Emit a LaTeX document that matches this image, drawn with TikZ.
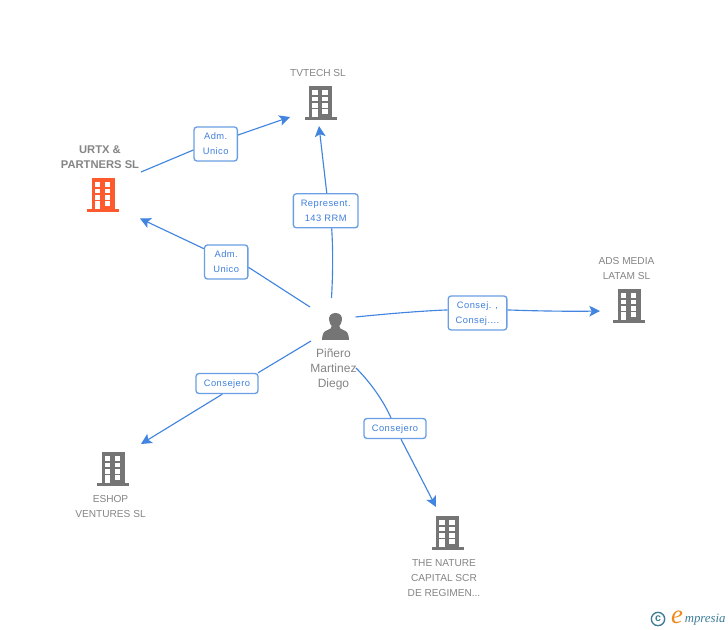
\documentclass[tikz,border=0pt]{standalone}
\usepackage{fontspec}
\setmainfont{Liberation Sans}
\newfontfamily\labelfont[LetterSpace=5]{Liberation Sans}
\newfontfamily\logofont{Liberation Serif}
\usetikzlibrary{arrows.meta}
\definecolor{iconGrey}{HTML}{757575}
\definecolor{iconRed}{HTML}{FF5A2E}
\definecolor{textGrey}{HTML}{858585}
\definecolor{edgeBlue}{HTML}{4285E0}
\definecolor{boxBlue}{HTML}{6A9FE4}
\definecolor{labelBlue}{HTML}{3F7FDC}
\definecolor{logoTeal}{HTML}{3D7C97}
\definecolor{logoOrange}{HTML}{F08A1D}
\newcommand{\lbltext}[1]{\raisebox{-1.2pt}{\begin{tabular}{@{}c@{}}#1\end{tabular}}}
\tikzset{
  iconbox/.style={inner sep=0pt,minimum width=24pt,minimum height=25.5pt},
  company/.style={font=\fontsize{7.6pt}{11.25pt}\selectfont,text=textGrey,align=center,inner sep=0pt},
  mainco/.style={font=\fontsize{8.4pt}{11.25pt}\selectfont\bfseries,text=textGrey,align=center,inner sep=0pt},
  personname/.style={font=\fontsize{9pt}{11.4pt}\selectfont,text=textGrey,align=center,inner sep=0pt},
  relbox/.style={draw=boxBlue,line width=1pt,fill=white,rounded corners=2.2pt,inner sep=0pt,
    text=labelBlue,align=center,font=\labelfont\fontsize{7pt}{11.25pt}\selectfont},
  link/.style={draw=edgeBlue,line width=.85pt},
  tip/.style={-{Stealth[length=8pt,width=8pt,inset=1.8pt]}},
  building/.pic={
    \fill[pic actions] (-11.5,-17) rectangle (11.5,14);
    \fill[pic actions] (-16,14) rectangle (16,17);
    \foreach \yy in {-12.7,-6.3,0.3}{
      \fill[white] (-8.2,\yy) rectangle (-2.8,\yy+4.6);
      \fill[white] (1.8,\yy) rectangle (7.2,\yy+4.6);
    }
    \fill[white] (-8.2,6.3) rectangle (-2.8,14);
    \fill[white] (1.8,6.3) rectangle (7.2,11);
  },
  personicon/.pic={
    \fill[pic actions] (0,-13.5) .. controls (-5,-13.5) and (-7,-10) .. (-6.3,-6)
      .. controls (-5.8,-3) and (-4.8,-1.5) .. (-3.8,-0.5)
      .. controls (-3.8,1.5) and (-5,2.5) .. (-8,3.6)
      .. controls (-11.5,5) and (-13,6) .. (-13.5,13.5)
      -- (13.5,13.5)
      .. controls (13,6) and (11.5,5) .. (8,3.6)
      .. controls (5,2.5) and (3.8,1.5) .. (3.8,-0.5)
      .. controls (4.8,-1.5) and (5.8,-3) .. (6.3,-6)
      .. controls (7,-10) and (5,-13.5) .. (0,-13.5) -- cycle;
  }
}
\begin{document}
\begin{tikzpicture}[x=.75pt,y=-.75pt]
\useasboundingbox (0,0) rectangle (728,630);
\fill[white] (0,0) rectangle (728,630);

% icons
\node[iconbox] (tvtech) at (320.5,103) {};
\pic[iconGrey] at (tvtech) {building};
\node[iconbox] (urtx) at (103,195) {};
\pic[iconRed] at (urtx) {building};
\node[iconbox] (ads) at (629,306) {};
\pic[iconGrey] at (ads) {building};
\node[iconbox] (eshop) at (113,469) {};
\pic[iconGrey] at (eshop) {building};
\node[iconbox] (nature) at (447.5,533) {};
\pic[iconGrey] at (nature) {building};
\node[iconbox] (person) at (335.5,326.5) {};
\pic[iconGrey] at (person) {personicon};

% names
\node[company] (tvtechname) at (318,72.7) {TVTECH SL};
\node[mainco] (urtxname) at (100,157.5) {URTX \&\\PARTNERS SL};
\node[company] (adsname) at (626.5,268.5) {ADS MEDIA\\LATAM SL};
\node[company] (eshopname) at (110.5,506.5) {ESHOP\\VENTURES SL};
\node[company] (naturename) at (444,578) {THE NATURE\\CAPITAL SCR\\DE REGIMEN...};
\node[personname] (personname) at (333.5,369.5) {Piñero\\Martinez\\Diego};

% relation labels
\node[relbox,minimum width=32.5pt,minimum height=25.5pt] (r1) at (215.7,144) {\lbltext{Adm.\\Unico}};
\node[relbox,minimum width=48.5pt,minimum height=25.5pt] (r2) at (325.7,210.8) {\lbltext{Represent.\\143 RRM}};
\node[relbox,minimum width=32.5pt,minimum height=25.5pt] (r3) at (226.2,262) {\lbltext{Adm.\\Unico}};
\node[relbox,minimum width=44pt,minimum height=25.5pt] (r4) at (477.5,313) {\lbltext{Consej. ,\\Consej....}};
\node[relbox,minimum width=46.5pt,minimum height=15pt] (r5) at (227,383.5) {\lbltext{Consejero}};
\node[relbox,minimum width=46.5pt,minimum height=15pt] (r6) at (395,428.5) {\lbltext{Consejero}};

% free ends
\coordinate (a1) at (141,172);
\coordinate (b1) at (290,117);
\coordinate (a2) at (331.5,298);
\coordinate (b2) at (319,126);
\coordinate (a3) at (310,307);
\coordinate (b3) at (140,218.5);
\coordinate (a4) at (355.5,317);
\coordinate (b4) at (600,311);
\coordinate (a5) at (311,341);
\coordinate (b5) at (141,444);
\coordinate (a6) at (356,368);
\coordinate (b6) at (436,507);

% connectors
\path[link] (a1) -- ([yshift=-4.5pt]r1.west);
\path[link,tip] ([yshift=6.75pt]r1.east) -- (b1);
\path[link] (a2) .. controls (333,272) and (333,250) .. ([xshift=4.5pt]r2.south);
\path[link,tip] ([xshift=.8pt]r2.north) -- (b2);
\path[link] (a3) -- ([yshift=-4pt]r3.east);
\path[link,tip] ([yshift=10pt]r3.west) -- (b3);
\path[link] (a4) .. controls (385,314) and (420,311) .. ([yshift=2.3pt]r4.west);
\path[link,tip] ([yshift=2.3pt]r4.east) .. controls (535,311) and (570,311.5) .. (b4);
\path[link] (a5) -- ([xshift=-.5pt]r5.north east);
\path[link,tip] ([xshift=-3.5pt]r5.south) -- (b5);
\path[link] (a6) .. controls (370,382) and (383,400) .. ([xshift=-3pt]r6.north);
\path[link,tip] ([xshift=4.5pt]r6.south) -- (b6);

% logo
\node[draw=logoTeal,line width=1pt,circle,inner sep=0pt,minimum size=10pt,text=logoTeal,
  font=\fontsize{8pt}{8pt}\selectfont\bfseries] (copyr) at (658,619) {\raisebox{.5pt}{c}};
\node[inner sep=0pt,text=logoOrange,font=\logofont\itshape\fontsize{20pt}{20pt}\selectfont] (logoe) at (677,617) {e};
\node[inner sep=0pt,anchor=base west,text=logoTeal,font=\logofont\itshape\fontsize{9.6pt}{10pt}\selectfont] (logom) at (684.5,622.5) {mpresia};
\end{tikzpicture}
\end{document}
